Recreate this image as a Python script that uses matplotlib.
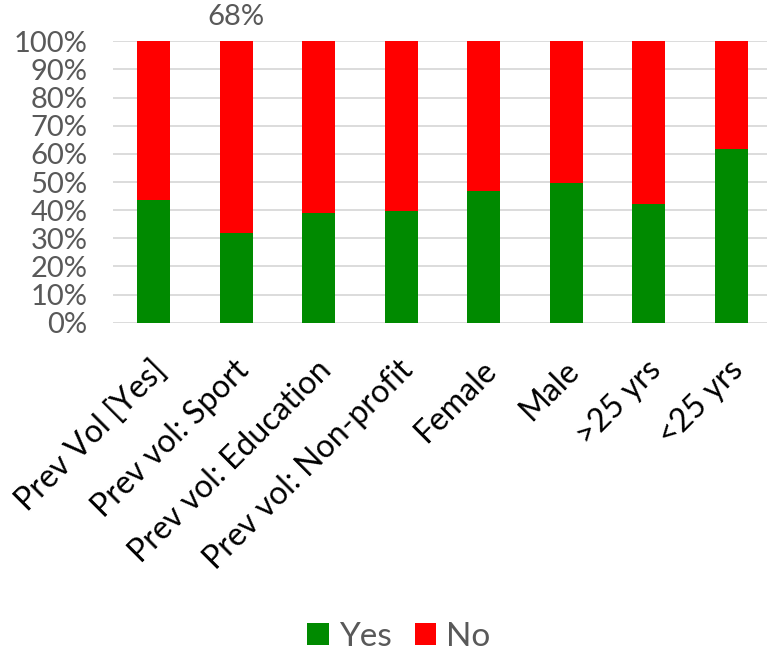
import numpy as np
import matplotlib.pyplot as plt
from matplotlib.transforms import ScaledTranslation

categories = ['Prev Vol [Yes]', 'Prev vol: Sport', 'Prev vol: Education',
              'Prev vol: Non-profit', 'Female', 'Male', '>25 yrs', '<25 yrs']
yes_pct = [43.6, 32.0, 38.9, 39.6, 46.7, 49.5, 42.1, 61.8]
no_pct = [100 - v for v in yes_pct]
yticks = list(range(0, 101, 10))

plt.rcParams['font.family'] = ['Lato', 'DejaVu Sans']

fig = plt.figure(figsize=(7.67, 6.52), dpi=100)
ax = fig.add_axes([0.147, 0.505, 0.86, 0.4317])

x = np.arange(len(categories))
ax.bar(x, yes_pct, width=0.4, color='#008a00', label='Yes', zorder=3)
ax.bar(x, no_pct, width=0.4, bottom=yes_pct, color='#ff0000', label='No', zorder=3)

# the one data label on the chart sits above the Sport column
ax.text(x[1], 104, '%d%%' % round(no_pct[1]), ha='center', va='bottom',
        fontsize=21, color='#595959', clip_on=False)

ax.set_xlim(-0.5, len(categories) - 0.5)
ax.set_ylim(0, 100)
ax.set_yticks(yticks)
ax.set_yticklabels(['%d%%' % t for t in yticks], fontsize=21, color='#595959')
ax.yaxis.grid(True, color='#d9d9d9', lw=1.3, zorder=0)
ax.tick_params(axis='both', length=0)
ax.tick_params(axis='y', pad=18)
ax.set_xticks(x)
ax.set_xticklabels(categories, rotation=45, ha='right', rotation_mode='anchor',
                   fontsize=23, color='black')
ax.tick_params(axis='x', pad=24)
shift = ScaledTranslation(-3 / 100, 1 / 100, fig.dpi_scale_trans)
for lab in ax.get_xticklabels():
    lab.set_transform(lab.get_transform() + shift)
for s in ax.spines.values():
    s.set_visible(False)

fig.legend(loc='lower center', bbox_to_anchor=(0.52, -0.046), ncol=2, frameon=False,
           fontsize=24, labelcolor='#595959', handlelength=0.64, handleheight=0.64,
           handletextpad=0.3, columnspacing=0.7)

plt.savefig('out.png', dpi=100)
